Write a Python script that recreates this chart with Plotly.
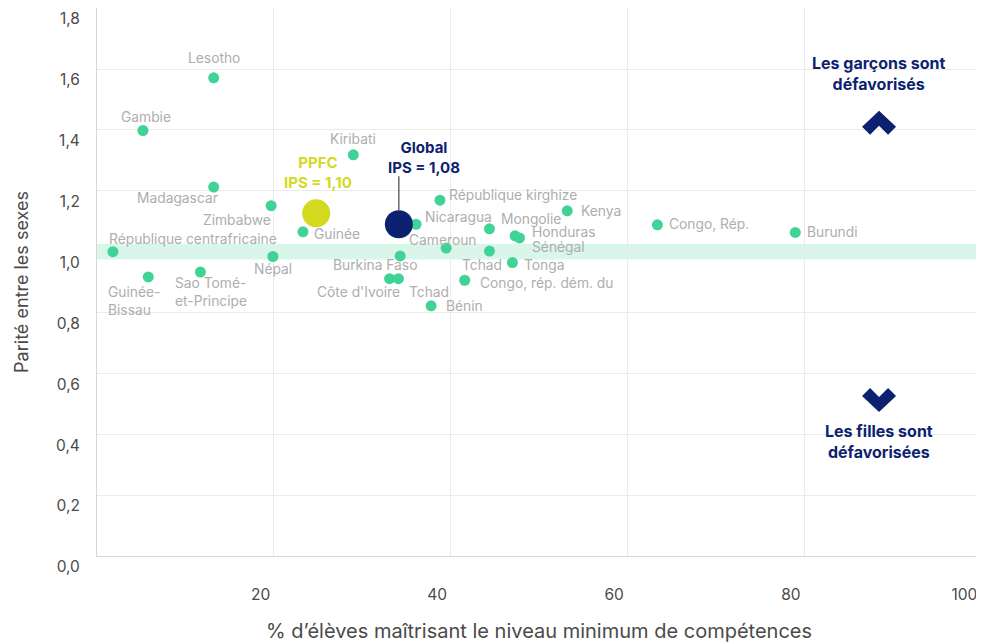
import plotly.graph_objects as go

# ---------------- data ----------------
countries = ["Lesotho", "Gambie", "Madagascar", "Zimbabwe", "Guinée", "République centrafricaine",
             "Népal", "Guinée-<br>Bissau", "Sao Tomé-<br>et-Principe", "Kiribati", "Nicaragua",
             "République kirghize", "Cameroun", "Burkina Faso", "Côte d'Ivoire", "Tchad", "Bénin",
             "Mongolie", "Tchad", "Honduras", "Sénégal", "Tonga", "Congo, rép. dém. du", "Kenya",
             "Congo, Rép.", "Burundi"]
pct_min = [13.2, 5.2, 13.2, 19.7, 23.3, 1.8, 19.9, 5.8, 11.7, 29.0, 36.1, 38.8, 39.5, 34.3, 33.1,
           34.1, 37.8, 44.4, 44.4, 47.3, 47.8, 47.0, 41.6, 53.2, 63.4, 79.0]
ips = [1.571, 1.398, 1.212, 1.151, 1.065, 1.000, 0.984, 0.917, 0.933, 1.318, 1.090, 1.169, 1.012,
       0.986, 0.911, 0.911, 0.822, 1.075, 1.002, 1.052, 1.045, 0.964, 0.906, 1.134, 1.088, 1.063]

ppfc_x, ppfc_y, ppfc_label = [24.8], [1.126], "PPFC<br>IPS = 1,10"
global_x, global_y, global_label = [34.15], [1.090], "Global<br>IPS = 1,08"

x_ticks = [20, 40, 60, 80, 100]
y_ticks = [0, 0.2, 0.4, 0.6, 0.8, 1.0, 1.2, 1.4, 1.6, 1.8]

# label placement (styling): xanchor, xshift, yshift in pixels
label_pos = [("center", 0, 20), ("center", 3, 14), ("right", 6, -11), ("right", 2, -14),
             ("left", 9, -2), ("left", -6, 13), ("center", 0, -12), ("left", -42, -24),
             ("left", -27, -20), ("center", 0, 16), ("left", 7, 7), ("left", 7, 5),
             ("center", -3, 8), ("center", -25, -9), ("right", 12, -13), ("left", 9, -13),
             ("left", 13, 0), ("left", 10, 10), ("right", 15, -14), ("left", 15, 4),
             ("left", 10, -9), ("left", 10, -2), ("left", 13, -3), ("left", 12, 0),
             ("left", 10, 1), ("left", 10, 0)]

FONT = "Inter"
GREEN = "#3fd396"
NAVY = "#0c2270"
YELLOW = "#d3d91f"
LABEL_GRAY = "#aeaeae"
TICK_GRAY = "#4a4a4a"

# pixel geometry helpers for decorations (screen pixels; page body has an 8px margin)
X0_PX, PX_PER_X = 97.3, 8.835
Y0_PX, PX_PER_Y = 556.0, 304.25
def dx(px):
    return (px - X0_PX) / PX_PER_X
def dy(py):
    return (Y0_PX - py) / PX_PER_Y

fig = go.Figure()

# parity band
fig.add_shape(type="rect", xref="paper", x0=0, x1=1, yref="y", y0=0.974, y1=1.026,
              fillcolor="rgba(63,211,150,0.2)", line_width=0, layer="below")

fig.add_trace(go.Scatter(x=pct_min, y=ips, mode="markers",
                         marker=dict(size=11, color=GREEN), hoverinfo="skip", showlegend=False))
fig.add_trace(go.Scatter(x=ppfc_x, y=ppfc_y, mode="markers",
                         marker=dict(size=28, color=YELLOW), hoverinfo="skip", showlegend=False))
fig.add_trace(go.Scatter(x=global_x, y=global_y, mode="markers",
                         marker=dict(size=28, color=NAVY), hoverinfo="skip", showlegend=False))

for name, x, y, (xa, xs, ys) in zip(countries, pct_min, ips, label_pos):
    fig.add_annotation(x=x, y=y, text=name, showarrow=False, xanchor=xa, yanchor="middle",
                       xshift=xs, yshift=ys, align="left",
                       font=dict(family=FONT, size=13.8, color=LABEL_GRAY))

fig.add_annotation(x=ppfc_x[0], y=ppfc_y[0], text=ppfc_label, showarrow=False, xanchor="center",
                   yanchor="middle", xshift=2, yshift=41, align="center",
                   font=dict(family=FONT, size=15, color=YELLOW, weight="bold"))
fig.add_annotation(x=global_x[0], y=global_y[0], text=global_label, showarrow=False, xanchor="left",
                   yanchor="middle", xshift=-13, yshift=67, align="center",
                   font=dict(family=FONT, size=15, color=NAVY, weight="bold"))
# leader line for Global
fig.add_shape(type="line", x0=global_x[0], x1=global_x[0],
              y0=global_y[0] + 14 / PX_PER_Y, y1=global_y[0] + 48 / PX_PER_Y,
              line=dict(color="#444444", width=1.2))

# side notes
fig.add_annotation(x=dx(879), y=dy(74), text="Les garçons sont<br>défavorisés", showarrow=False,
                   xanchor="center", yanchor="middle", align="center",
                   font=dict(family=FONT, size=16, color=NAVY, weight="bold"))
fig.add_annotation(x=dx(879), y=dy(441.5), text="Les filles sont<br>défavorisées", showarrow=False,
                   xanchor="center", yanchor="middle", align="center",
                   font=dict(family=FONT, size=16, color=NAVY, weight="bold"))

def chevron(pts):
    return "M " + " L ".join(f"{dx(a):.4f},{dy(b):.4f}" for a, b in pts) + " Z"

up = [(879, 111), (896, 127), (888, 135), (879, 126), (870, 135), (862, 127)]
down = [(879, 412), (896, 396), (888, 388), (879, 397), (870, 388), (862, 396)]
for pts in (up, down):
    fig.add_shape(type="path", xref="x", yref="y", path=chevron(pts), fillcolor=NAVY, line_width=0)

fig.update_layout(
    width=976, height=636,
    margin=dict(l=89, r=3, t=0, b=88),
    paper_bgcolor="white", plot_bgcolor="white",
    separators=", ",
    font=dict(family=FONT, color="#444444"),
    showlegend=False,
)
fig.update_xaxes(range=[0, 100.01], tickvals=x_ticks, ticktext=[str(v) for v in x_ticks],
                 automargin=False,
                 showgrid=True, gridcolor="#ebebeb", gridwidth=1, zeroline=False,
                 showline=True, linecolor="#d6d6d6", linewidth=1, ticks="",
                 ticklabelposition="outside left", ticklabelstandoff=24, ticklabelshift=-3,
                 ticklabeloverflow="allow",
                 tickfont=dict(family=FONT, size=15.5, color=TICK_GRAY),
                 title=dict(text="% d’élèves maîtrisant le niveau minimum de compétences",
                            font=dict(family=FONT, size=20, color=TICK_GRAY), standoff=21))
fig.update_yaxes(range=[0, 1.8005], tickvals=y_ticks, tickformat=".1f",
                 automargin=False,
                 showgrid=True, gridcolor="#ebebeb", gridwidth=1, zeroline=False,
                 showline=True, linecolor="#d6d6d6", linewidth=1, ticks="",
                 ticklabelposition="outside bottom", ticklabelstandoff=13,
                 ticklabeloverflow="allow",
                 tickfont=dict(family=FONT, size=15.5, color=TICK_GRAY),
                 title=dict(text="Parité entre les sexes",
                            font=dict(family=FONT, size=18, color=TICK_GRAY), standoff=22))

fig.write_html("out.html")
